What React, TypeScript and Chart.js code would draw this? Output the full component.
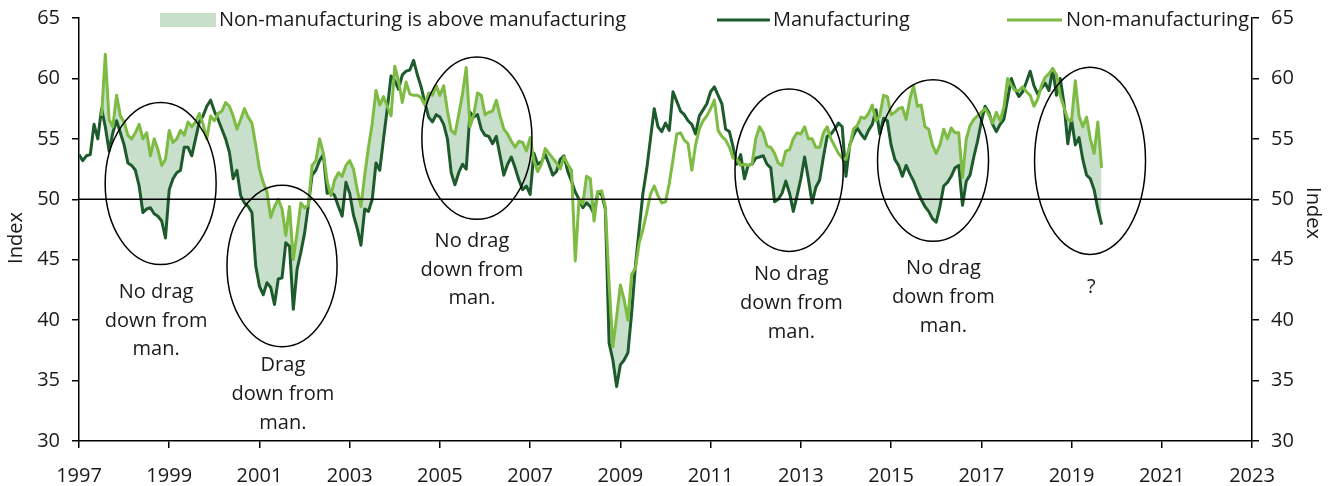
import { useEffect, useRef } from 'react';
import { Chart, registerables } from 'chart.js';

Chart.register(...registerables);

// ---------- data ----------
const START_YEAR = 1997; // first observation: January 1997, monthly
const NONMAN_START_MONTH = 6; // non-manufacturing starts July 1997

const manufacturing = [
  53.7, 53.2, 53.6, 53.7, 56.2, 55, 57.5, 56, 54, 55.5, 56.5, 55.5,
  54.5, 53, 52.8, 52.4, 51.1, 48.9, 49.2, 49.3, 48.8, 48.6, 48.2, 46.8,
  50.8, 51.7, 52.2, 52.4, 54.3, 54.3, 53.6, 55, 56.4, 56.9, 57.7, 58.2,
  57.3, 56.6, 55.8, 55, 53.9, 51.7, 52.4, 50.3, 49.7, 49.4, 48.9, 44.5,
  42.8, 42.1, 43.1, 42.7, 41.3, 43.4, 43.5, 46.4, 46.1, 40.9, 44.2, 45.6,
  47.2, 49.5, 52, 52.4, 53.2, 53.7, 50.5, 50.6, 50.3, 49.4, 48.6, 51.4,
  50.5, 48.7, 47.6, 46.2, 49.2, 49, 50, 53, 52.4, 55, 57.5, 60.2,
  59.8, 59.1, 60.3, 60.6, 60.7, 61.5, 60.3, 59.3, 58, 56.8, 56.4, 57,
  56.8, 56.2, 55, 52.2, 51.2, 52.2, 52.9, 52.5, 57.2, 56.8, 57, 55.8,
  55.3, 55.2, 54.6, 55.2, 53.6, 52, 52.9, 53.5, 52.6, 51.6, 50.8, 51.1,
  50.4, 53.8, 52.9, 53.1, 53.7, 52.9, 52, 52.3, 53.3, 53.6, 52.3, 51.5,
  50.6, 50, 49.3, 49.7, 49.4, 48.8, 50.6, 50.4, 49.2, 38.1, 36.7, 34.5,
  36.3, 36.7, 37.3, 40.6, 44.5, 47.5, 50.5, 52.5, 55, 57.5, 56, 55.6,
  56.3, 55.7, 58.9, 58.1, 57.3, 57, 56.5, 56.2, 55.4, 56.9, 57.4, 57.9,
  58.9, 59.3, 58.6, 57.9, 55.8, 55.6, 54.3, 52.9, 53.7, 51.7, 52.8, 52.9,
  53.4, 53.5, 53.6, 52.9, 52.6, 49.8, 50, 50.5, 51.5, 50.5, 49, 50.3,
  51.7, 53.5, 51.7, 49.7, 51, 51.6, 53.5, 55.2, 55.4, 55.8, 56.3, 56,
  51.9, 54.5, 55.3, 55.9, 55.4, 55, 55.7, 56.2, 57.4, 55.4, 56.7, 56.5,
  54.5, 53.3, 52.8, 51.9, 52.8, 52.1, 51.5, 50.7, 50, 49.4, 49, 48.4,
  48.1, 49.4, 51.1, 51.4, 51.9, 52.6, 52.8, 49.5, 51.5, 52, 53.5, 54.8,
  56.4, 57.7, 57.2, 56.2, 55.6, 56.2, 56.6, 58.3, 60, 59.1, 58.5, 58.9,
  59.7, 60.6, 59.4, 58.7, 59.2, 59.6, 59, 60.8, 58.6, 60, 57.9, 54.6,
  56.6, 54.5, 55.1, 53.3, 52, 51.7, 50.8, 49.2, 47.9,
];

const nonManufacturing = [
  56.9, 62, 56.6, 56, 58.6, 56.9,
  56.4, 55.3, 55, 55.5, 56.2, 55, 55.5, 53.6, 55, 54.1, 52.8, 53.3,
  55.7, 54.7, 55, 55.7, 55.3, 56.4, 56, 56.4, 57.1, 56.2, 55, 56.9,
  56.5, 57.1, 57.3, 58, 57.7, 56.9, 55.8, 56.6, 57.5, 56.8, 56.3, 54.5,
  52.5, 51.4, 50.6, 48.5, 49.4, 50, 49.2, 47, 49.4, 45, 47.2, 49.7,
  49.3, 49.5, 52.8, 53.2, 55, 53.8, 51.5, 50.3, 51.6, 52.2, 51.9, 52.8,
  53.2, 52.5, 50.8, 49.4, 52, 54.3, 56.3, 59, 57.8, 58.5, 57.7, 56.9,
  61, 59.8, 58, 59.7, 58.7, 58.6, 58.6, 58.4, 57.8, 58.8, 58.6, 59.4,
  58.6, 59.4, 57.3, 55.7, 55.4, 57, 58.7, 60.9, 56, 57, 58.8, 58.6,
  57, 57.2, 57.3, 58.2, 56.9, 55.8, 55.4, 54.8, 54.3, 54.8, 54.7, 54,
  55.1, 53.2, 52.3, 52.9, 54.2, 53.8, 53.4, 53, 52.5, 53.5, 52.9, 52.4,
  44.9, 50, 49.6, 51.9, 51.7, 48.2, 50.6, 50.7, 49.4, 43, 37.8, 40.3,
  42.9, 41.7, 40, 43.8, 44.3, 46.4, 47.5, 48.9, 50.4, 51.1, 50.3, 49.7,
  49.8, 51.3, 53.3, 55.4, 55.5, 54.9, 54.6, 52.4, 54.5, 55.8, 56.5, 56.9,
  57.5, 58.2, 55.7, 55.2, 54.9, 54.3, 53.4, 53.3, 52.8, 52.9, 52.8, 52.9,
  55, 56, 55.5, 54.4, 54.3, 53.8, 53, 52.8, 54, 54.1, 55, 55.5,
  55.4, 56, 55, 55, 54.3, 54.3, 55.5, 56, 55, 54.4, 53.8, 53.4,
  53.3, 54.4, 55.8, 56.1, 56.8, 56.7, 57.1, 57.8, 56.5, 56.9, 58.6, 58.5,
  57, 57.2, 57.5, 57.6, 56.6, 58.3, 59.4, 57.7, 57.8, 56, 55.8, 54.5,
  53.8, 54.5, 55.8, 55, 55.9, 55.5, 55.5, 51.8, 55, 56.1, 56.6, 56.9,
  57.2, 57.5, 57, 56.3, 57.2, 56.5, 57.6, 60, 59.4, 59, 59, 59.3,
  58.9, 58.6, 57.7, 58.3, 59.4, 60.1, 60.4, 60.8, 60.3, 58.6, 57.6, 56.6,
  56.5, 59.8, 56.9, 56, 56.8, 55, 53.8, 56.4, 52.6,
];

const yearTicks = [1997, 1999, 2001, 2003, 2005, 2007, 2009, 2011, 2013, 2015, 2017, 2019, 2021, 2023];
const valueTicks = [30, 35, 40, 45, 50, 55, 60, 65];
const REFERENCE_LEVEL = 50;

const legendLabels = ['Non-manufacturing is above manufacturing', 'Manufacturing', 'Non-manufacturing'];

// annotation ellipses (centre / radii in data units: years, index points)
const ellipses = [
  { cx: 1998.81, cy: 51.3, rx: 1.23, ry: 6.7 },
  { cx: 2001.5, cy: 44.48, rx: 1.22, ry: 6.68 },
  { cx: 2005.82, cy: 55.06, rx: 1.22, ry: 6.72 },
  { cx: 2012.74, cy: 52.41, rx: 1.2, ry: 6.72 },
  { cx: 2015.93, cy: 53.21, rx: 1.23, ry: 6.69 },
  { cx: 2019.41, cy: 53.18, rx: 1.23, ry: 7.75 },
];

const notes = [
  { x: 1998.71, y: 42.3, lines: ['No drag', 'down from', 'man.'] },
  { x: 2001.52, y: 36.23, lines: ['Drag', 'down from', 'man.'] },
  { x: 2005.71, y: 46.54, lines: ['No drag', 'down from', 'man.'] },
  { x: 2012.79, y: 43.78, lines: ['No drag', 'down from', 'man.'] },
  { x: 2016.16, y: 44.28, lines: ['No drag', 'down from', 'man.'] },
  { x: 2019.44, y: 42.7, lines: ['?'] },
];

// ---------- styles ----------
const DARK = '#1d5a2c';
const LIGHT = '#7dbb42';
const FILL = '#c7dfcb';
const TEXT = '#1a1a1a';
const FONT_FAMILY = "'Open Sans', 'Noto Sans', sans-serif";
const FONT_SIZE = 20;
const FONT = `${FONT_SIZE}px ${FONT_FAMILY}`;

const overlayPlugin = {
  id: 'overlay',
  afterDatasetsDraw(chart: any) {
    const { ctx, chartArea, scales } = chart;
    const xs = scales.x;
    const ys = scales.y;
    ctx.save();
    ctx.strokeStyle = '#000';
    ctx.lineWidth = 1.5;
    const y50 = ys.getPixelForValue(REFERENCE_LEVEL);
    ctx.beginPath();
    ctx.moveTo(chartArea.left, y50);
    ctx.lineTo(chartArea.right, y50);
    ctx.stroke();

    ctx.lineWidth = 1.5;
    for (const e of ellipses) {
      const cx = xs.getPixelForValue(e.cx);
      const cy = ys.getPixelForValue(e.cy);
      const rx = Math.abs(xs.getPixelForValue(e.cx + e.rx) - cx);
      const ry = Math.abs(ys.getPixelForValue(e.cy + e.ry) - cy);
      ctx.beginPath();
      ctx.ellipse(cx, cy, rx, ry, 0, 0, Math.PI * 2);
      ctx.stroke();
    }

    ctx.fillStyle = TEXT;
    ctx.font = FONT;
    ctx.textAlign = 'center';
    ctx.textBaseline = 'middle';
    for (const n of notes) {
      const x = xs.getPixelForValue(n.x);
      const y = ys.getPixelForValue(n.y);
      n.lines.forEach((line, i) => ctx.fillText(line, x, y + i * 28.7));
    }
    ctx.restore();
  },
  afterDraw(chart: any) {
    const { ctx } = chart;
    ctx.save();
    ctx.font = FONT;
    ctx.fillStyle = TEXT;
    ctx.textBaseline = 'middle';
    ctx.textAlign = 'left';
    const ly = 20;
    // legend: fill swatch
    ctx.fillStyle = FILL;
    ctx.fillRect(160, 13, 56, 14);
    ctx.fillStyle = TEXT;
    ctx.fillText(legendLabels[0], 219, ly);
    // manufacturing
    ctx.strokeStyle = DARK;
    ctx.lineWidth = 3;
    ctx.beginPath();
    ctx.moveTo(717, ly);
    ctx.lineTo(770, ly);
    ctx.stroke();
    ctx.fillText(legendLabels[1], 773, ly);
    // non-manufacturing
    ctx.strokeStyle = LIGHT;
    ctx.beginPath();
    ctx.moveTo(1007, ly);
    ctx.lineTo(1062, ly);
    ctx.stroke();
    ctx.fillText(legendLabels[2], 1066, ly);

    // axis titles
    ctx.textAlign = 'center';
    ctx.save();
    ctx.translate(16, 238);
    ctx.rotate(-Math.PI / 2);
    ctx.fillText('Index', 0, 0);
    ctx.restore();
    ctx.save();
    ctx.translate(1313, 213);
    ctx.rotate(Math.PI / 2);
    ctx.fillText('Index', 0, 0);
    ctx.restore();
    ctx.restore();
  },
};

export default function App() {
  const canvasRef = useRef<HTMLCanvasElement | null>(null);

  useEffect(() => {
    const canvas = canvasRef.current;
    if (!canvas) return;

    const monthX = (i: number) => START_YEAR + i / 12;
    const manPoints = manufacturing.map((v, i) => ({ x: monthX(i), y: v }));
    const nonPoints = manufacturing.map((_, i) => {
      const j = i - NONMAN_START_MONTH;
      const v = j >= 0 && j < nonManufacturing.length ? nonManufacturing[j] : null;
      return { x: monthX(i), y: v };
    });

    const tickFont = { family: FONT_FAMILY, size: FONT_SIZE };
    const axisGrid = {
      drawOnChartArea: false,
      drawTicks: true,
      tickLength: 7,
      color: '#000',
      lineWidth: 1.5,
    };
    const axisBorder = { display: true, color: '#000', width: 1.5 };

    const yAxis = (position: 'left' | 'right', width: number) => ({
      type: 'linear' as const,
      position,
      min: 30,
      max: 65,
      afterBuildTicks: (s: any) => {
        s.ticks = valueTicks.map((v) => ({ value: v }));
      },
      ticks: { font: tickFont, color: TEXT, padding: 12 },
      grid: axisGrid,
      border: axisBorder,
      afterFit: (s: any) => {
        s.width = width;
        s.paddingTop = 0;
        s.paddingBottom = 0;
      },
    });

    const chart = new Chart(canvas, {
      type: 'line',
      data: {
        datasets: [
          {
            label: 'Non-manufacturing',
            data: nonPoints as any,
            borderColor: LIGHT,
            backgroundColor: LIGHT,
            borderWidth: 3,
            pointRadius: 0,
            tension: 0,
            spanGaps: false,
            borderJoinStyle: 'round',
            fill: { target: 1, above: FILL, below: 'rgba(0,0,0,0)' } as any,
            yAxisID: 'y',
          },
          {
            label: 'Manufacturing',
            data: manPoints as any,
            borderColor: DARK,
            backgroundColor: DARK,
            borderWidth: 3,
            pointRadius: 0,
            tension: 0,
            borderJoinStyle: 'round',
            fill: false,
            yAxisID: 'y',
          },
        ],
      },
      options: {
        responsive: false,
        maintainAspectRatio: false,
        animation: false,
        devicePixelRatio: 1,
        layout: { padding: { top: 18, left: 0, right: 0, bottom: 0 } },
        plugins: {
          legend: { display: false },
          tooltip: { enabled: false },
          filler: { drawTime: 'beforeDatasetsDraw' } as any,
        },
        scales: {
          x: {
            type: 'linear',
            min: 1997,
            max: 2023,
            afterBuildTicks: (s: any) => {
              s.ticks = yearTicks.map((v) => ({ value: v }));
            },
            ticks: {
              font: tickFont,
              color: TEXT,
              padding: 16,
              maxRotation: 0,
              autoSkip: false,
              callback: (v: any) => String(v),
            },
            grid: axisGrid,
            border: axisBorder,
            afterFit: (s: any) => {
              s.height = 45;
              s.paddingLeft = 0;
              s.paddingRight = 0;
            },
          },
          y: yAxis('left', 79),
          y2: yAxis('right', 83),
        } as any,
      },
      plugins: [overlayPlugin],
    });

    if ((document as any).fonts && (document as any).fonts.ready) {
      (document as any).fonts.ready.then(() => chart.update());
    }

    return () => chart.destroy();
  }, []);

  return (
    <div style={{ position: 'absolute', left: 0, top: 0, width: 1335, height: 486, background: '#fff' }}>
      <canvas ref={canvasRef} width={1335} height={486} style={{ display: 'block' }} />
    </div>
  );
}
